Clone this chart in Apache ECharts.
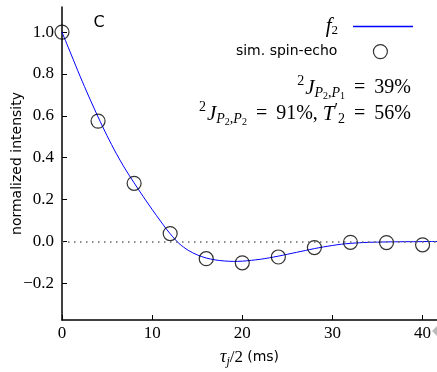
<!DOCTYPE html>
<html><head><meta charset="utf-8">
<script src="https://cdn.jsdelivr.net/npm/echarts@6/dist/echarts.min.js"></script>
<style>html,body{margin:0;padding:0;background:#fff}#c{width:437px;height:372px}</style>
</head><body><div id="c"></div>
<script>
// simulated spin-echo points
const echoTimes = [0, 4, 8, 12, 16, 20, 24, 28, 32, 36, 40];
const echoValues = [1.0, 0.575, 0.278, 0.038, -0.082, -0.102, -0.074, -0.029, -0.004, -0.005, -0.016];
// fitted curve f2
const fitTimes = [0,1,2,3,4,5,6,7,8,9,10,11,12,13,14,15,16,17,18,19,20,21,22,23,24,25,26,27,28,29,30,31,32,33,34,35,36,37,38,39,40,41,42];
const fitValues = [1.0,0.895,0.79,0.69,0.595,0.505,0.422,0.347,0.28,0.215,0.153,0.093,0.037,-0.01,-0.042,-0.064,-0.079,-0.088,-0.093,-0.095,-0.094,-0.09,-0.085,-0.078,-0.07,-0.061,-0.052,-0.043,-0.034,-0.026,-0.019,-0.013,-0.009,-0.006,-0.004,-0.003,-0.002,-0.0015,-0.001,-0.001,-0.0005,0,0];
const xTicks = [0, 10, 20, 30, 40];
const yTicks = [-0.2, 0, 0.2, 0.4, 0.6, 0.8, 1.0];

const SERIF = 'Liberation Serif';
const SANS = 'DejaVu Sans';
const mathRich = {
  n: {fontFamily: SERIF, fontSize: 20, color: '#000'},
  it: {fontFamily: SERIF, fontStyle: 'italic', fontSize: 21, color: '#000'},
  sup: {fontFamily: SERIF, fontSize: 14, color: '#000', padding: [0, 1, 13, 0]},
  pr: {fontFamily: SERIF, fontSize: 16, color: '#000', padding: [0, 0, 8, 0]},
  sub: {fontFamily: SERIF, fontStyle: 'italic', fontSize: 14, color: '#000', padding: [10, 0, 0, 0]},
  subn: {fontFamily: SERIF, fontSize: 14, color: '#000', padding: [10, 0, 0, 0]},
  ss: {fontFamily: SERIF, fontSize: 10, color: '#000', padding: [17, 0, 0, 0]}
};

const chart = echarts.init(document.getElementById('c'), null, {renderer: 'canvas'});
chart.setOption({
  animation: false,
  backgroundColor: '#fff',
  grid: {left: 62, right: 0, top: 7, bottom: 52, containLabel: false, outerBoundsMode: 'none'},
  xAxis: {
    type: 'value', min: 0, max: 41.6,
    axisLine: {onZero: false, lineStyle: {color: '#000', width: 1.5}},
    axisTick: {inside: true, length: 5, customValues: xTicks, lineStyle: {color: '#000', width: 1}},
    axisLabel: {customValues: xTicks, margin: 5, fontFamily: SERIF, fontSize: 17, color: '#000'},
    splitLine: {show: false},
    name: '{it|τ}{sub|j}{n|/2 }{sans|(ms)}',
    nameLocation: 'middle', nameGap: 27, nameMoveOverlap: false,
    nameTextStyle: {rich: {
      it: {fontFamily: SERIF, fontStyle: 'italic', fontSize: 18, color: '#000'},
      sub: {fontFamily: SERIF, fontStyle: 'italic', fontSize: 12, color: '#000', padding: [9, 0, 0, 0]},
      n: {fontFamily: SERIF, fontSize: 17, color: '#000'},
      sans: {fontFamily: SANS, fontSize: 14, color: '#000'}}}
  },
  yAxis: {
    type: 'value', min: -0.375, max: 1.12,
    axisLine: {onZero: false, lineStyle: {color: '#000', width: 1.5}},
    axisTick: {inside: true, length: 5, customValues: yTicks, lineStyle: {color: '#000', width: 1}},
    axisLabel: {customValues: yTicks, margin: 8, fontFamily: SERIF, fontSize: 17, color: '#000',
      formatter: v => (v < 0 ? '\u2212' : '') + Math.abs(v).toFixed(1)},
    splitLine: {show: false},
    name: 'normalized intensity', nameLocation: 'middle', nameGap: 38, nameMoveOverlap: false,
    nameTextStyle: {fontFamily: SANS, fontSize: 14, color: '#000'}
  },
  legend: [
    {
      data: [{name: 'f2', icon: 'rect'}], right: 24, top: 16, padding: 0,
      itemWidth: 60, itemHeight: 1.5, align: 'right',
      formatter: () => '{it|f}{sub|2}',
      textStyle: {padding: [0, 10, 0, 0], rich: {
        it: {fontFamily: SERIF, fontStyle: 'italic', fontSize: 21, color: '#000'},
        sub: {fontFamily: SERIF, fontSize: 13, color: '#000', padding: [9, 0, 0, 0]}}}
    },
    {
      data: [{name: 'sim. spin-echo', icon: 'circle', itemStyle: {color: 'rgba(0,0,0,0)', borderColor: '#000', borderWidth: 1.2}}],
      right: 49, top: 44, padding: 0,
      itemWidth: 14, itemHeight: 14, align: 'right',
      textStyle: {fontFamily: SANS, fontSize: 14, color: '#000', padding: [0, 31, 0, 0]}
    }
  ],
  series: [
    {
      name: 'f2', type: 'line', showSymbol: false, symbol: 'none', smooth: 0.3,
      data: fitTimes.map((t, i) => [t, fitValues[i]]),
      lineStyle: {color: '#0000ff', width: 1}, itemStyle: {color: '#0000ff'},
      z: 2,
      markLine: {
        silent: true, symbol: ['none', 'none'], label: {show: false},
        lineStyle: {color: '#666', type: [1.5, 4.5], width: 1.5},
        data: [{yAxis: 0}]
      }
    },
    {
      name: 'sim. spin-echo', type: 'scatter', symbol: 'circle', symbolSize: 14,
      data: echoTimes.map((t, i) => [t, echoValues[i]]),
      itemStyle: {color: 'rgba(0,0,0,0)', borderColor: '#000', borderWidth: 1.2},
      z: 3
    }
  ],
  graphic: [
    {type: 'text', x: 99, y: 23, style: {text: 'C', fontFamily: SANS, fontSize: 16, fill: '#000', align: 'center', verticalAlign: 'middle'}},
    {type: 'text', x: 411, y: 88, style: {text: '{sup|2}{it|J}{sub|P}{ss|2}{subn|,}{sub|P}{ss|1}{n| \u2009=\u2009 39%}', rich: mathRich, align: 'right', verticalAlign: 'middle'}},
    {type: 'text', x: 411, y: 114, style: {text: '{sup|2}{it|J}{sub|P}{ss|2}{subn|,}{sub|P}{ss|2}{n| \u2009=\u2009 91%, }{it|T}{pr|\u2032}{subn|2}{n| \u2009=\u2009 56%}', rich: mathRich, align: 'right', verticalAlign: 'middle'}},
    {type: 'polygon', shape: {points: [[432, 331], [437, 326], [437, 336]]}, style: {fill: '#bbb'}}
  ]
});
</script></body></html>
